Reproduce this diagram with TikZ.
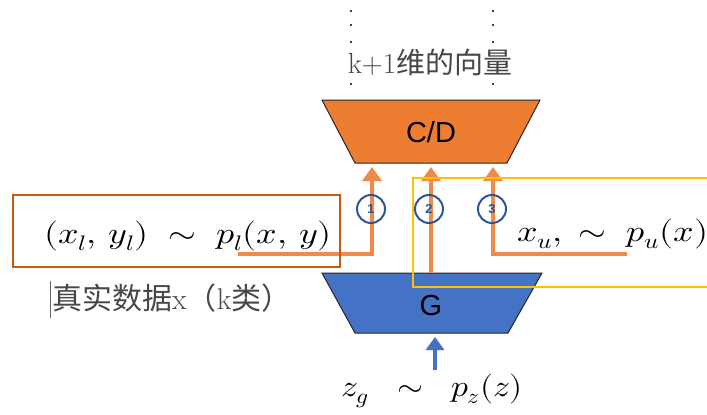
\documentclass[tikz,border=0pt]{standalone}
\usepackage{graphicx}
\usepackage{fontspec}
\usepackage{unicode-math}
\setmathfont{Latin Modern Math}
\setsansfont{Liberation Sans}
\newfontfamily\cjk{Noto Sans CJK SC}
\usetikzlibrary{arrows.meta}
\definecolor{cdfill}{HTML}{ED7D31}
\definecolor{gfill}{HTML}{4472C4}
\definecolor{arr}{HTML}{F0894A}
\definecolor{boxor}{HTML}{C55A11}
\definecolor{boxye}{HTML}{FFC000}
\definecolor{circ}{HTML}{2F5597}
\tikzset{
  trap/.style={draw=black!85, line width=1pt},
  flow/.style={arr, line width=4.5pt, -{Triangle[width=19pt,length=14pt]}},
  flowline/.style={arr, line width=4.5pt},
  numc/.style={circle, draw=circ, line width=2pt, minimum size=28pt, inner sep=0pt, text=circ, font=\sffamily\bfseries\fontsize{13}{13}\selectfont},
  dotpt/.style={fill=black, circle, inner sep=0pt, minimum size=2.4pt},
  mathtxt/.style={font=\fontsize{30}{34}\selectfont},
  cntxt/.style={text=black!72},
}
\begin{document}
\begin{tikzpicture}[x=1pt,y=-1pt]
\clip (0,0) rectangle (707,415);
\fill[white] (0,0) rectangle (707,415);
% dotted guide lines
\foreach \yy [count=\i] in {11,25,42,84} {
  \node[dotpt] (dl\i) at (351,\yy) {};
  \node[dotpt] (dr\i) at (493,\yy) {};
}
\node[cntxt, font=\fontsize{29}{31}\selectfont, inner sep=0pt] (vec) at (430,62) {k+1{\cjk 维的向量}};
% C/D trapezoid
\draw[trap, fill=cdfill] (322,100) -- (540,100) -- (507,163) -- (355,163) -- cycle;
\node[font=\sffamily\fontsize{29}{30}\selectfont] (cd) at (431,132) {C/D};
% G trapezoid
\draw[trap, fill=gfill] (322,273) -- (542,273) -- (508,333) -- (355,333) -- cycle;
\node[font=\sffamily\fontsize{29}{30}\selectfont] (g) at (431,306) {G};
% coordinates for arrows
\coordinate (a1t) at (372,167); \coordinate (a1c) at (372,254); \coordinate (a1s) at (238,254);
\coordinate (a2t) at (431,167); \coordinate (a2s) at (431,273);
\coordinate (a3t) at (493,167); \coordinate (a3c) at (493,254); \coordinate (a3s) at (627,254);
\draw[flowline] (a1s) -- ([xshift=2.25pt]a1c);
\draw[flow] ([yshift=2.25pt]a1c) -- (a1t);
\draw[flow] (a2s) -- (a2t);
\draw[flowline] (a3s) -- ([xshift=-2.25pt]a3c);
\draw[flow] ([yshift=2.25pt]a3c) -- (a3t);
% numbered circles
\node[numc] (c1) at (371,209) {1};
\node[numc] (c2) at (429,209) {2};
\node[numc] (c3) at (492,209) {3};
% boxes
\node[draw=boxor, line width=1.6pt, minimum width=327pt, minimum height=72pt, inner sep=0pt] (lbox) at (176.5,231) {};
\draw[boxye, line width=1.6pt] (720,178) -- (413,178) -- (413,287) -- (720,287);
% formulas
\node[mathtxt] (lf) at (188,236) {\scalebox{1.2}[1]{$(x_l,\,y_l)\;\sim\;p_l(x,\,y)$}};
\node[mathtxt, anchor=west, inner sep=0pt] (rf) at (517,234) {\scalebox{1.2}[1]{$x_u,\;\sim\;p_u(x)$}};
\node[cntxt, anchor=west, font=\fontsize{30}{32}\selectfont, inner sep=0pt] (real) at (52,298) {{\cjk 真实数据}x{\cjk （}k{\cjk 类）}};
\coordinate (cur1) at (50,281); \coordinate (cur2) at (50,318);
\draw[black!60, line width=0.8pt] (cur1) -- (cur2);
% G input
\node[mathtxt] (zg) at (432,391) {\scalebox{1.12}[1]{$z_g\;\;\sim\;\;p_z(z)$}};
\coordinate (gin) at (435,337);
\draw[gfill, line width=4.5pt, -{Triangle[width=18pt,length=13pt]}] (435,370) -- (gin);
\end{tikzpicture}
\end{document}
